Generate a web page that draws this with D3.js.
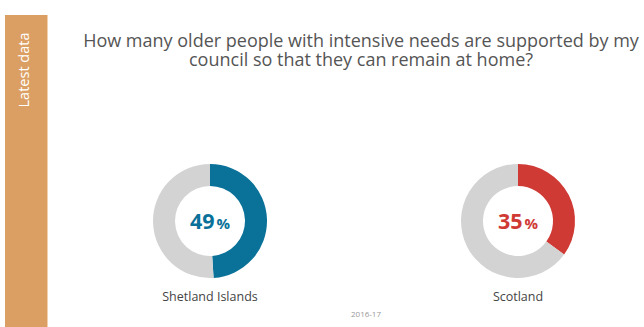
<!DOCTYPE html>
<html>
<head>
<meta charset="utf-8">
<script src="https://cdn.jsdelivr.net/npm/d3@7"></script>
<style>
  html, body { margin: 0; padding: 0; background: #fff; }
  svg { display: block; font-family: "Open Sans", sans-serif; }
</style>
</head>
<body>
<svg id="chart" width="644" height="327"></svg>
<script>
// Share of older people with intensive needs supported at home
const areas = ["Shetland Islands", "Scotland"];
const percentValues = [49, 35];
const areaColors = ["#0a7199", "#d03a35"];
const periodLabel = "2016-17";
const titleLines = [
  "How many older people with intensive needs are supported by my",
  "council so that they can remain at home?"
];
const sideLabel = "Latest data";

const svg = d3.select("#chart");

// Side tab
svg.append("rect")
  .attr("x", 5).attr("y", 15).attr("width", 42).attr("height", 320)
  .attr("fill", "#dc9f63");
svg.append("rect")
  .attr("x", 47).attr("y", 15).attr("width", 1).attr("height", 320)
  .attr("fill", "#f3cfae");
svg.append("text")
  .attr("transform", "translate(29,70) rotate(-90)")
  .attr("text-anchor", "middle")
  .attr("fill", "#fff")
  .attr("font-size", 14.5)
  .text(sideLabel);

// Title, two centred lines
svg.append("text")
  .attr("text-anchor", "middle")
  .attr("fill", "#555")
  .attr("font-size", 18)
  .selectAll("tspan")
  .data(titleLines)
  .join("tspan")
  .attr("x", 361)
  .attr("y", (d, i) => 47 + i * 19)
  .text(d => d);

// Donut positions
const xScale = d3.scalePoint().domain(areas).range([210, 518]);
const cy = 221;
const outerR = 57, innerR = 35;

const pie = d3.pie().sort(null).value(d => d);
const arc = d3.arc().innerRadius(innerR).outerRadius(outerR);

areas.forEach((name, i) => {
  const v = percentValues[i];
  const g = svg.append("g").attr("transform", `translate(${xScale(name)},${cy})`);
  g.selectAll("path")
    .data(pie([v, 100 - v]))
    .join("path")
    .attr("d", arc)
    .attr("fill", (d, j) => j === 0 ? areaColors[i] : "#d3d3d3");

  const t = g.append("text")
    .attr("text-anchor", "middle")
    .attr("y", 8)
    .attr("fill", areaColors[i])
    .attr("font-weight", "bold");
  t.append("tspan").attr("font-size", 21.5).text(v);
  t.append("tspan").attr("font-size", 15).attr("dx", 2).text("%");

  g.append("text")
    .attr("text-anchor", "middle")
    .attr("y", 80)
    .attr("fill", "#444")
    .attr("font-size", 12.5)
    .text(name);
});

svg.append("text")
  .attr("x", 366).attr("y", 317)
  .attr("text-anchor", "middle")
  .attr("fill", "#999")
  .attr("font-size", 8)
  .text(periodLabel);
</script>
</body>
</html>
